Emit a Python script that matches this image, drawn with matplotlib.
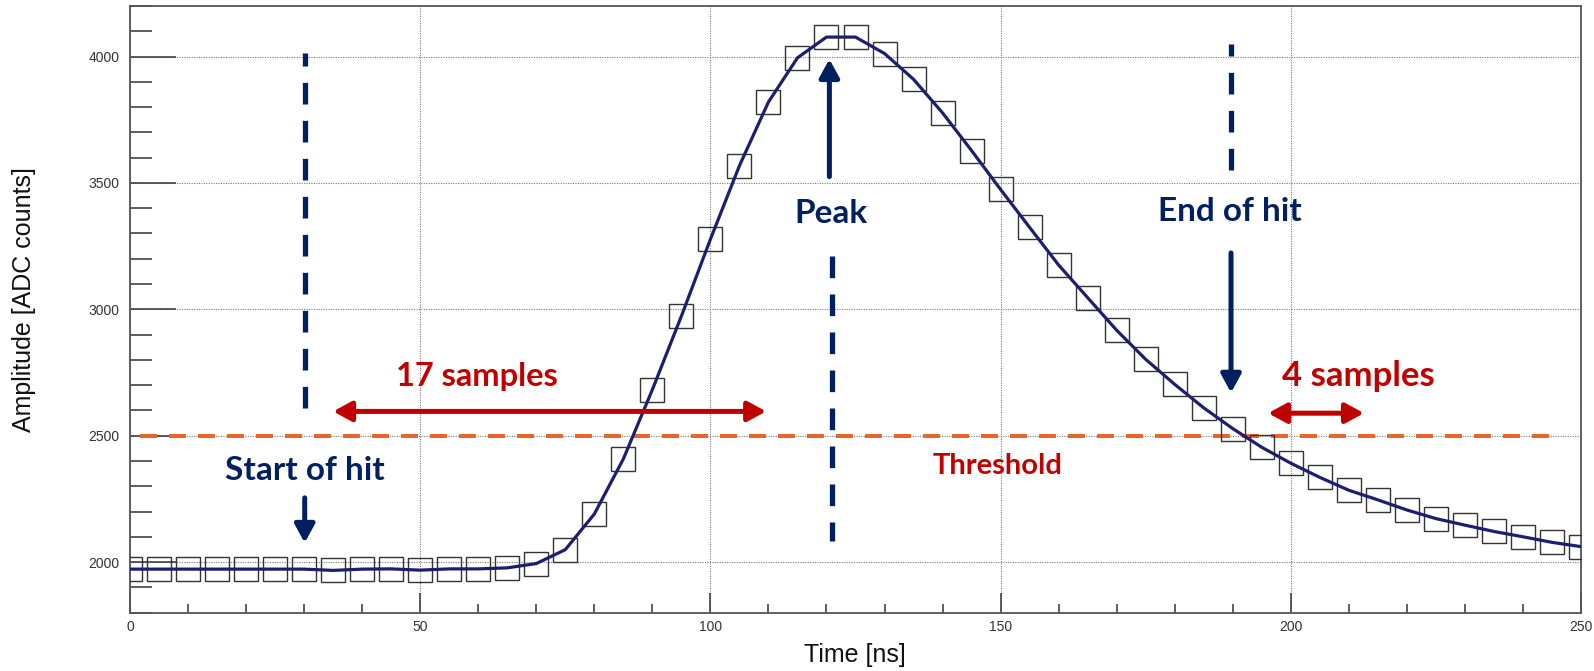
import matplotlib
matplotlib.use("Agg")
import matplotlib.pyplot as plt
from matplotlib.ticker import MultipleLocator

# ---------------- data ----------------
time_ns = [0, 5, 10, 15, 20, 25, 30, 35, 40, 45, 50, 55, 60, 65, 70, 75, 80, 85, 90, 95,
           100, 105, 110, 115, 120, 125, 130, 135, 140, 145, 150, 155, 160, 165, 170, 175,
           180, 185, 190, 195, 200, 205, 210, 215, 220, 225, 230, 235, 240, 245, 250]
amplitude = [1972, 1972, 1972, 1972, 1972, 1972, 1972, 1967, 1972, 1973, 1968, 1973, 1973,
             1977, 1994, 2049, 2190, 2408, 2682, 2973, 3277, 3568, 3820, 3995, 4077, 4077,
             4012, 3910, 3777, 3628, 3474, 3324, 3175, 3046, 2917, 2802, 2703, 2610, 2528,
             2454, 2391, 2335, 2284, 2246, 2206, 2172, 2146, 2121, 2100, 2078, 2061]
threshold = 2500

x_ticks = [0, 50, 100, 150, 200, 250]
y_ticks = [2000, 2500, 3000, 3500, 4000]
x_label = "Time [ns]"
y_label = "Amplitude [ADC counts]"

# ---------------- style ----------------
W, H, DPI = 1594, 671, 100
NAVY = "#002060"
RED = "#C00000"
ORANGE = "#E8652B"
CURVE = "#1E1E6E"
TXT_FONT = ["Lato", "DejaVu Sans"]

fig = plt.figure(figsize=(W / DPI, H / DPI), dpi=DPI)
L, R, T, B = 130, 1581, 6, 612.6
ax = fig.add_axes([L / W, 1 - B / H, (R - L) / W, (B - T) / H])

ax.set_xlim(0, 250)
ax.set_ylim(1800, 4200)

# grid
ax.set_xticks(x_ticks)
ax.set_yticks(y_ticks)
ax.xaxis.set_minor_locator(MultipleLocator(10))
ax.yaxis.set_minor_locator(MultipleLocator(100))
ax.grid(True, which="major", color="#7a7a7a", linestyle=(0, (1, 1.2)), linewidth=0.8, zorder=0)

for s in ax.spines.values():
    s.set_color("#555555")
    s.set_linewidth(1.3)

ax.tick_params(axis="y", which="major", direction="in", length=33, width=1.1, color="#333333",
               labelsize=10, labelcolor="#333333", pad=7.5)
ax.tick_params(axis="y", which="minor", direction="in", length=16, width=1.1, color="#333333")
ax.tick_params(axis="x", which="major", direction="in", length=14.5, width=1.1, color="#333333",
               labelsize=10, labelcolor="#333333", pad=5)
ax.tick_params(axis="x", which="minor", direction="in", length=6.5, width=1.1, color="#333333")
for lab in ax.get_xticklabels() + ax.get_yticklabels():
    lab.set_fontfamily("Liberation Sans")

fig.text(855 / W, 1 - 655 / H, x_label, ha="center", va="center", fontsize=18,
         family="Liberation Sans", color="#111111")
fig.text(24 / W, 1 - 300 / H, y_label, ha="center", va="center", fontsize=18,
         rotation=90, family="Liberation Sans", color="#111111")

# data
ax.plot(time_ns, amplitude, linestyle="none", marker="s", markersize=17.5,
        markerfacecolor="none", markeredgecolor="#333333", markeredgewidth=1.0, zorder=3)
ax.plot(time_ns, amplitude, color=CURVE, linewidth=2.3, zorder=4)

# threshold line
thr, = ax.plot([1.7, 245.5], [threshold, threshold], color=ORANGE, linewidth=2.9, zorder=2)
thr.set_dashes((4.2, 3.0))

# vertical dashed markers
def vdash(x, y0, y1):
    ln, = ax.plot([x, x], [y0, y1], color=NAVY, linewidth=3.8, zorder=5,
                  solid_capstyle="butt", dash_capstyle="butt")
    ln.set_dashes((4.1, 3.1))

vdash(30.1, 2610, 4016)
vdash(121.0, 3209, 2082)
vdash(189.7, 3552, 4050)

# arrows
def arrow(x0, y0, x1, y1, color, style="-|>"):
    ax.annotate("", xy=(x1, y1), xytext=(x0, y0),
                arrowprops=dict(arrowstyle=f"{style},head_length=0.55,head_width=0.3",
                                color=color, lw=3.6, mutation_scale=20,
                                shrinkA=0, shrinkB=0), zorder=6)

arrow(30.1, 2254, 30.1, 2076, NAVY)
arrow(120.5, 3525, 120.5, 3990, NAVY)
arrow(189.7, 3223, 189.7, 2670, NAVY)
arrow(35.0, 2596, 109.6, 2596, RED, "<|-|>")
arrow(196.1, 2589, 212.6, 2589, RED, "<|-|>")

# texts
def label(x, y, s, color, size):
    ax.text(x, y, s, ha="center", va="baseline", color=color, fontsize=size,
            fontweight="bold", family=TXT_FONT, zorder=7)

label(30.1, 2326, "Start of hit", NAVY, 24)
label(120.8, 3343, "Peak", NAVY, 24)
label(189.5, 3351, "End of hit", NAVY, 24)
label(59.8, 2695, "17 samples", RED, 23.5)
label(211.6, 2695, "4 samples", RED, 25)
label(149.5, 2348, "Threshold", RED, 21)

fig.savefig("out.png", dpi=DPI)
